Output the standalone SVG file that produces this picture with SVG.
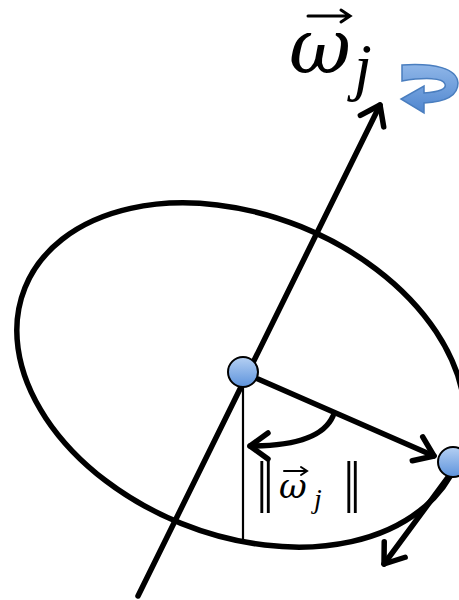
<svg xmlns="http://www.w3.org/2000/svg" width="459" height="600" viewBox="0 0 459 600">
<style>
.thick{fill:none;stroke:#000;stroke-width:5.5;stroke-linecap:round;stroke-linejoin:round}
.thin{fill:none;stroke:#000;stroke-width:2.2}
.node{fill:url(#blue);stroke:#000;stroke-width:2}
.math{font-family:"DejaVu Serif","Liberation Serif",serif;font-style:italic;fill:#000}
.mj{font-family:"Liberation Serif","DejaVu Serif",serif;font-style:italic;fill:#000}
.bar{font-family:"Liberation Serif","DejaVu Serif",serif;fill:#000}
</style>
<defs>
<linearGradient id="blue" x1="0" y1="0" x2="0" y2="1">
<stop offset="0" stop-color="#b5d0f3"/>
<stop offset="1" stop-color="#5d93dc"/>
</linearGradient>
<linearGradient id="curl" x1="0" y1="0" x2="0" y2="1">
<stop offset="0" stop-color="#8fb6e8"/>
<stop offset="1" stop-color="#4f86cf"/>
</linearGradient>
<marker id="head" markerUnits="userSpaceOnUse" markerWidth="40" markerHeight="40" refX="0" refY="0" viewBox="-25 -20 30 40" orient="auto" overflow="visible">
<path d="M -18 -13 L 0 0 L -18 13" fill="none" stroke="#000" stroke-width="5.5" stroke-linecap="round" stroke-linejoin="round"/>
</marker>
</defs>
<g id="ellipse">
<ellipse cx="241" cy="375" rx="233" ry="160" transform="rotate(22 241 375)" class="thick"/>
</g>
<g id="connectors">
<line x1="138" y1="596" x2="380" y2="105" class="thick" marker-end="url(#head)"/>
<line x1="243" y1="385" x2="243" y2="544" class="thin"/>
<line x1="258" y1="379" x2="434" y2="456" class="thick" marker-end="url(#head)"/>
<path d="M 333 416 Q 320 446 250 446" class="thick" marker-end="url(#head)"/>
<line x1="449" y1="476" x2="384" y2="564" class="thick" marker-end="url(#head)"/>
</g>
<g id="center-node">
<circle cx="243" cy="372" r="15" class="node"/>
</g>
<g id="edge-node">
<circle cx="453" cy="462" r="15" class="node"/>
</g>
<g id="label-omega">
<text x="289" y="73" class="math" font-size="76">ω</text>
<text x="354" y="88" class="mj" font-size="64">j</text>
<path d="M 308 16 L 349 16 M 341 10 L 350 16 L 341 22" fill="none" stroke="#000" stroke-width="3" stroke-linecap="round"/>
</g>
<g id="rotation-arrow">
<path d="M 402 65 C 434 63 457 68 458 83 C 458 96 444 102 424 103 L 424 113 L 401 99 L 424 86 L 424 93 C 439 92 447 89 445 84 C 443 78 426 77 402 81 Z" fill="url(#curl)" stroke="#4a7ebf" stroke-width="1.5"/>
</g>
<g id="label-norm">
<text x="256" y="501" class="bar" font-size="58" letter-spacing="-5">||</text>
<text x="279" y="498" class="math" font-size="34">ω</text>
<text x="314" y="508" class="mj" font-size="28">j</text>
<path d="M 284 471 L 306 471 M 301 467 L 307 471 L 301 475" fill="none" stroke="#000" stroke-width="2" stroke-linecap="round"/>
<text x="343" y="501" class="bar" font-size="58" letter-spacing="-5">||</text>
</g>
</svg>
